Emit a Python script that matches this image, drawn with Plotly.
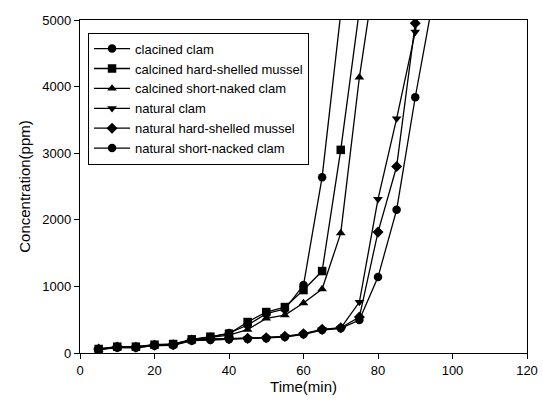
import plotly.graph_objects as go

time = [5, 10, 15, 20, 25, 30, 35, 40, 45, 50, 55, 60, 65, 70, 75, 80, 85, 90, 95]

series_names = [
    "clacined clam",
    "calcined hard-shelled mussel",
    "calcined short-naked clam",
    "natural clam",
    "natural hard-shelled mussel",
    "natural short-nacked clam",
]
calcined_clam = [55, 90, 90, 120, 130, 200, 240, 300, 420, 590, 660, 1020, 2640, 5100]
calcined_mussel = [60, 95, 95, 125, 135, 205, 245, 290, 465, 615, 690, 945, 1230, 3050, 5150]
calcined_short = [55, 85, 90, 120, 130, 195, 235, 270, 350, 520, 570, 750, 960, 1800, 4140, 6000]
natural_clam = [55, 85, 80, 110, 120, 190, 200, 210, 215, 225, 245, 285, 350, 375, 765, 2310, 3520, 4820, 6500]
natural_mussel = [60, 90, 85, 115, 125, 195, 210, 215, 220, 230, 250, 290, 355, 380, 540, 1815, 2800, 4950, 6500]
natural_short = [50, 80, 80, 110, 115, 185, 195, 205, 210, 220, 240, 280, 345, 370, 495, 1140, 2150, 3840, 5370]

values = [calcined_clam, calcined_mussel, calcined_short, natural_clam, natural_mussel, natural_short]
symbols = ["circle", "square", "triangle-up", "triangle-down", "diamond", "circle"]

x_ticks = [0, 20, 40, 60, 80, 100, 120]
y_ticks = [0, 1000, 2000, 3000, 4000, 5000]

fig = go.Figure()
for name, vals, sym in zip(series_names, values, symbols):
    fig.add_trace(go.Scatter(
        x=time[:len(vals)], y=vals, name=name, mode="lines+markers",
        line=dict(color="black", width=1.3),
        marker=dict(symbol=sym, size=8.5, color="black"),
    ))

axis_common = dict(
    showline=True, linecolor="black", linewidth=1.3, mirror=True,
    ticks="outside", ticklen=5, tickcolor="black", showgrid=False, zeroline=False,
    automargin=False,
    tickfont=dict(family="Arial", size=13, color="black"),
)
fig.update_xaxes(range=[0, 120], tickvals=x_ticks,
                 title=dict(text="Time(min)", font=dict(family="Arial", size=15, color="black"), standoff=2),
                 **axis_common)
fig.update_yaxes(range=[0, 5000], tickvals=y_ticks,
                 title=dict(text="Concentration(ppm)", font=dict(family="Arial", size=15, color="black"), standoff=8),
                 **axis_common)

fig.update_layout(
    width=543, height=401,
    margin=dict(l=80, r=16, t=20, b=48),
    paper_bgcolor="white", plot_bgcolor="white",
    showlegend=True,
    legend=dict(x=0.018, y=0.962, xanchor="left", yanchor="top",
                bgcolor="white", bordercolor="black", borderwidth=1,
                font=dict(family="Arial", size=13, color="black"),
                tracegroupgap=0, itemwidth=36),
)

fig.write_html("out.html")
